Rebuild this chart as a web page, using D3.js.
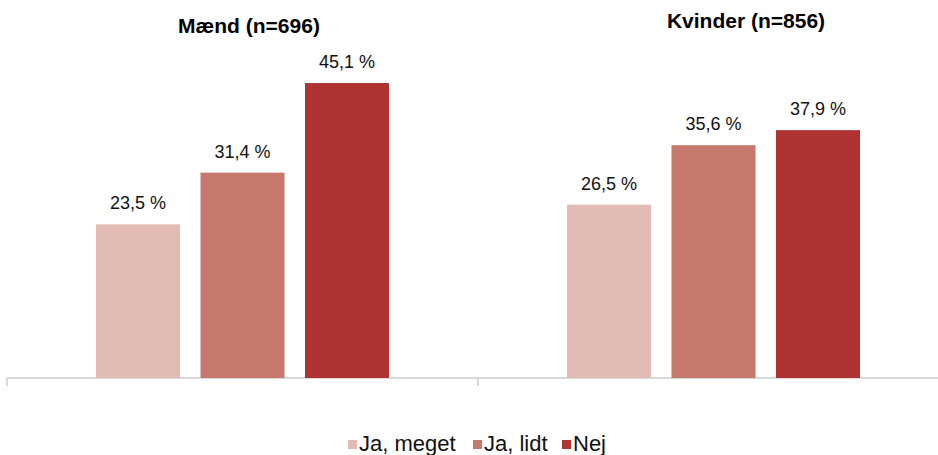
<!DOCTYPE html>
<html>
<head>
<meta charset="utf-8">
<script src="https://cdn.jsdelivr.net/npm/d3@7"></script>
<style>
  html, body { margin: 0; padding: 0; background: #fff; }
  svg { display: block; font-family: "Liberation Sans", Arial, sans-serif; }
</style>
</head>
<body>
<svg id="chart" width="938" height="455"></svg>
<script>
const groups = ["Mænd (n=696)", "Kvinder (n=856)"];
const series = ["Ja, meget", "Ja, lidt", "Nej"];
const maendValues = [23.5, 31.4, 45.1];
const kvinderValues = [26.5, 35.6, 37.9];
const colors = ["#e2bcb4", "#c5796c", "#ae3332"];

const values = [maendValues, kvinderValues];
const svg = d3.select("#chart");

const x0 = d3.scaleBand().domain(groups).range([7, 949]).paddingInner(0).paddingOuter(0);
const x1 = d3.scaleBand().domain(series).range([89, x0.bandwidth() - 89]).paddingInner(0.196).paddingOuter(0);
const y = d3.scaleLinear().domain([0, 50]).range([378, 51]);

// axis
const axisG = svg.append("g").attr("transform", "translate(0,378)");
axisG.append("line").attr("x1", 7).attr("x2", 949).attr("y1", 0).attr("y2", 0)
  .attr("stroke", "#d9d9d9").attr("stroke-width", 2);
const tickXs = groups.map(g => x0(g)).concat([x0(groups[groups.length - 1]) + x0.bandwidth()]);
axisG.selectAll("line.tk").data(tickXs).enter().append("line").attr("class", "tk")
  .attr("x1", d => d).attr("x2", d => d).attr("y1", 0).attr("y2", 8)
  .attr("stroke", "#d9d9d9").attr("stroke-width", 2);

const gG = svg.selectAll("g.grp").data(groups).enter().append("g").attr("class", "grp")
  .attr("transform", d => `translate(${x0(d)},0)`);

gG.each(function(g, gi) {
  const sel = d3.select(this);
  const data = series.map((s, i) => ({ s, v: values[gi][i], c: colors[i] }));
  sel.selectAll("rect").data(data).enter().append("rect")
    .attr("x", d => x1(d.s)).attr("width", x1.bandwidth())
    .attr("y", d => y(d.v)).attr("height", d => y(0) - y(d.v))
    .attr("fill", d => d.c);
  sel.selectAll("text.lbl").data(data).enter().append("text").attr("class", "lbl")
    .attr("x", d => x1(d.s) + x1.bandwidth() / 2)
    .attr("y", d => y(d.v) - 15)
    .attr("text-anchor", "middle").attr("font-size", 18).attr("fill", "#111")
    .text(d => d.v.toFixed(1).replace(".", ",") + " %");
});

// titles
const titlePos = [[249, 33], [746, 28]];
svg.selectAll("text.title").data(groups).enter().append("text").attr("class", "title")
  .attr("x", (d, i) => titlePos[i][0]).attr("y", (d, i) => titlePos[i][1])
  .attr("text-anchor", "middle").attr("font-size", 21).attr("font-weight", "bold").attr("fill", "#000")
  .text(d => d);

// legend
const legX = [348, 473, 562];
const leg = svg.selectAll("g.leg").data(series).enter().append("g").attr("class", "leg")
  .attr("transform", (d, i) => `translate(${legX[i]},440)`);
leg.append("rect").attr("width", 9).attr("height", 9).attr("fill", (d, i) => colors[i]);
leg.append("text").attr("x", 11).attr("y", 10.5).attr("font-size", 22).attr("fill", "#111").text(d => d);
</script>
</body>
</html>
